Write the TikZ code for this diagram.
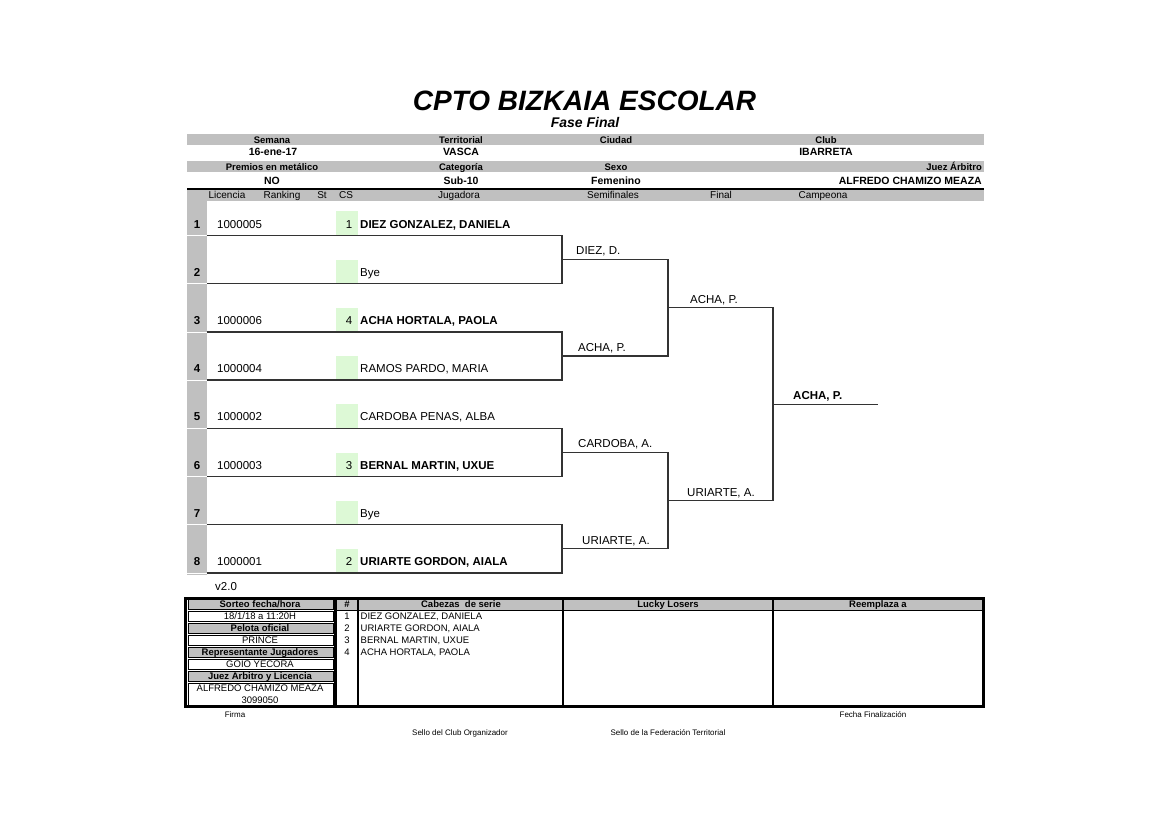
\documentclass[tikz,border=0pt]{standalone}
\usepackage{fontspec}
\setmainfont{Liberation Sans}
\usepackage{tikz}
\definecolor{bandgray}{HTML}{C0C0C0}
\definecolor{seedgreen}{HTML}{DDF9D6}
\newcommand{\fsz}[1]{\fontsize{#1}{#1}\selectfont}

\begin{document}
\begin{tikzpicture}[x=1pt, y=-1pt,
    band/.style={fill=bandgray, draw=none},
    maintitle/.style={font=\bfseries\itshape\fsz{28}, inner sep=0, anchor=base},
    hlabel/.style={font=\bfseries\fsz{9.5}, inner sep=0, anchor=base},
    hvalue/.style={font=\bfseries\fsz{10.5}, inner sep=0, anchor=base},
    colhead/.style={font=\fsz{10}, inner sep=0, anchor=base},
    rownum/.style={font=\bfseries\fsz{11.5}, inner sep=0, anchor=base},
    player/.style={font=\fsz{11.5}, inner sep=0, anchor=base west},
    seeded/.style={player, font=\bfseries\fsz{11.5}},
    seednum/.style={font=\fsz{11.5}, inner sep=0, anchor=base east},
    bracket/.style={draw=black!80, line width=1.3pt},
    cell/.style={draw=black, line width=0.8pt},
    tabtext/.style={font=\fsz{9.5}, inner sep=0, anchor=base},
    tabhead/.style={tabtext, font=\bfseries\fsz{9.5}},
    foot/.style={font=\fsz{8}, inner sep=0, anchor=base}
]
\useasboundingbox[fill=white] (0,0) rectangle (1169,826);

\node[maintitle] (title) at (584.5,110.5) {CPTO BIZKAIA ESCOLAR};
\node[maintitle, font=\bfseries\itshape\fsz{14}] (phase) at (585,128) {Fase Final};

\fill[band] (187,134) rectangle (984,145.5);
\fill[band] (187,161) rectangle (984,172.5);
\draw[line width=2.4pt] (187,188.8) -- (984,188.8);
\fill[band] (187,190.5) rectangle (984,201);

\node[hlabel] (semana) at (272,144) {Semana};
\node[hlabel] (territorial) at (461,144) {Territorial};
\node[hlabel] (ciudad) at (616,144) {Ciudad};
\node[hlabel] (club) at (826,144) {Club};
\node[hvalue] (semanaval) at (273,156) {16-ene-17};
\node[hvalue] (territorialval) at (461,156) {VASCA};
\node[hvalue] (clubval) at (826,156) {IBARRETA};
\node[hlabel] (premios) at (272,170.5) {Premios en metálico};
\node[hlabel] (categoria) at (461,170.5) {Categoría};
\node[hlabel] (sexo) at (616,170.5) {Sexo};
\node[hlabel, anchor=base east] (juez) at (982,170.5) {Juez Árbitro};
\node[hvalue] (premiosval) at (272,185) {NO};
\node[hvalue] (categoriaval) at (461,185) {Sub-10};
\node[hvalue] (sexoval) at (616,185) {Femenino};
\node[hvalue, anchor=base east] (juezval) at (982,185) {ALFREDO CHAMIZO MEAZA};

\node[colhead] (licencia) at (227,199) {Licencia};
\node[colhead] (ranking) at (282,199) {Ranking};
\node[colhead] (st) at (322,199) {St};
\node[colhead] (cs) at (346,199) {CS};
\node[colhead] (jugadora) at (459,199) {Jugadora};
\node[colhead] (semis) at (613,199) {Semifinales};
\node[colhead] (final) at (721,199) {Final};
\node[colhead] (campeona) at (823,199) {Campeona};

\fill[band] (187,201) rectangle (206.5,575);
\foreach \i in {1,...,8} {
  \draw[white, line width=0.6pt] (187,{235.5+48.2*(\i-1)}) -- (206.5,{235.5+48.2*(\i-1)});
  \fill[seedgreen] (336,{211.5+48.2*(\i-1)}) rectangle (358,{234.8+48.2*(\i-1)});
  \node[rownum] (num\i) at (197,{228.1+48.2*(\i-1)}) {\i};
  \coordinate (a\i) at (206.5,{235.5+48.2*(\i-1)});
}

\node[player] (lic1) at (217,228.1) {1000005};
\node[seednum] (cs1) at (352.5,228.1) {1};
\node[seeded] (name1) at (360,228.1) {DIEZ GONZALEZ, DANIELA};
\node[player] (name2) at (360,276.3) {Bye};
\node[player] (lic3) at (217,324.5) {1000006};
\node[seednum] (cs3) at (352.5,324.5) {4};
\node[seeded] (name3) at (360,324.5) {ACHA HORTALA, PAOLA};
\node[player] (lic4) at (217,372.7) {1000004};
\node[player] (name4) at (360,372.7) {RAMOS PARDO, MARIA};
\node[player] (lic5) at (217,420.9) {1000002};
\node[player] (name5) at (360,420.9) {CARDOBA PENAS, ALBA};
\node[player] (lic6) at (217,469.1) {1000003};
\node[seednum] (cs6) at (352.5,469.1) {3};
\node[seeded] (name6) at (360,469.1) {BERNAL MARTIN, UXUE};
\node[player] (name7) at (360,517.3) {Bye};
\node[player] (lic8) at (217,565.5) {1000001};
\node[seednum] (cs8) at (352.5,565.5) {2};
\node[seeded] (name8) at (360,565.5) {URIARTE GORDON, AIALA};

\coordinate (b1) at (562,259.6);
\coordinate (b2) at (562,356.0);
\coordinate (b3) at (562,452.4);
\coordinate (b4) at (562,548.8);
\coordinate (c1) at (668,307.8);
\coordinate (c2) at (668,500.6);
\coordinate (d1) at (773,404.2);
\coordinate (e1) at (878,404.2);
\draw[bracket] (a1) -| (b1) |- (a2);
\draw[bracket] (a3) -| (b2) |- (a4);
\draw[bracket] (a5) -| (b3) |- (a6);
\draw[bracket] (a7) -| (b4) |- (a8);
\draw[bracket] (b1) -| (c1) |- (b2);
\draw[bracket] (b3) -| (c2) |- (b4);
\draw[bracket] (c1) -| (d1) |- (c2);
\draw[bracket] (d1) -- (e1);

\node[player] (sf1) at (576,254.8) {DIEZ, D.};
\node[player] (sf2) at (578,351.2) {ACHA, P.};
\node[player] (sf3) at (578,447.6) {CARDOBA, A.};
\node[player] (sf4) at (582,544) {URIARTE, A.};
\node[player] (fn1) at (690,303.2) {ACHA, P.};
\node[player] (fn2) at (687,496) {URIARTE, A.};
\node[seeded] (champ) at (793,399.8) {ACHA, P.};
\node[player] (version) at (215,590) {v2.0};

\draw[line width=2.6pt] (185.5,598.5) rectangle (983.5,706.5);
\draw[cell, fill=bandgray] (188,599.5) rectangle (333.5,609.5);
\draw[cell] (188,611) rectangle (333.5,621);
\draw[cell, fill=bandgray] (188,623) rectangle (333.5,633);
\draw[cell] (188,635) rectangle (333.5,645);
\draw[cell, fill=bandgray] (188,647) rectangle (333.5,657);
\draw[cell] (188,659) rectangle (333.5,669);
\draw[cell, fill=bandgray] (188,671) rectangle (333.5,681);
\draw[cell] (188,683) rectangle (333.5,705.5);
\fill[band] (337,599.5) rectangle (982,609.5);
\draw[line width=1.6pt] (337,610.3) -- (982,610.3);
\draw[line width=2.6pt] (335.5,598.5) -- (335.5,706.5);
\draw[line width=2pt] (358,598.5) -- (358,706.5);
\draw[line width=2pt] (563,598.5) -- (563,706.5);
\draw[line width=1.6pt] (773,598.5) -- (773,706.5);

\node[tabhead] (sorteo) at (260,607.4) {Sorteo fecha/hora};
\node[tabtext] (sorteoval) at (260,619.4) {18/1/18 a 11:20H};
\node[tabhead] (pelota) at (260,631.4) {Pelota oficial};
\node[tabtext] (pelotaval) at (260,643.4) {PRINCE};
\node[tabhead] (repre) at (260,655.4) {Representante Jugadores};
\node[tabtext] (repreval) at (260,667.4) {GOIO YECORA};
\node[tabhead] (arbitro) at (260,679.4) {Juez Arbitro y Licencia};
\node[tabtext] (arbitroval) at (260,691.4) {ALFREDO CHAMIZO MEAZA};
\node[tabtext] (arbitrolic) at (260,703.4) {3099050};

\node[tabhead] (hash) at (347,607.4) {\#};
\node[tabhead] (cabezas) at (461,607.4) {Cabezas\ \ de serie};
\node[tabhead] (lucky) at (668,607.4) {Lucky Losers};
\node[tabhead] (reemplaza) at (878,607.4) {Reemplaza a};
\node[tabtext] (sn1) at (347,619) {1};
\node[tabtext, anchor=base west] (sd1) at (360.5,619) {DIEZ GONZALEZ, DANIELA};
\node[tabtext] (sn2) at (347,631) {2};
\node[tabtext, anchor=base west] (sd2) at (360.5,631) {URIARTE GORDON, AIALA};
\node[tabtext] (sn3) at (347,643) {3};
\node[tabtext, anchor=base west] (sd3) at (360.5,643) {BERNAL MARTIN, UXUE};
\node[tabtext] (sn4) at (347,655) {4};
\node[tabtext, anchor=base west] (sd4) at (360.5,655) {ACHA HORTALA, PAOLA};

\node[foot] (firma) at (235,717.5) {Firma};
\node[foot] (fecha) at (873,717) {Fecha Finalización};
\node[foot] (sello1) at (460,735.5) {Sello del Club Organizador};
\node[foot] (sello2) at (668,735) {Sello de la Federación Territorial};
\end{tikzpicture}
\end{document}
